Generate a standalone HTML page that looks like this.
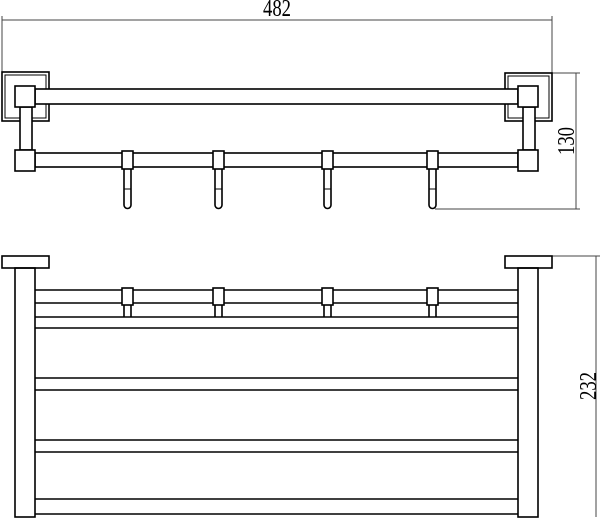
<!DOCTYPE html>
<html><head><style>html,body{margin:0;padding:0;background:#fff}svg{display:block}</style></head>
<body>
<svg width="600" height="518" viewBox="0 0 600 518" xmlns="http://www.w3.org/2000/svg" fill="none" stroke="#000" stroke-width="1.6">
<g stroke-width="1" stroke="#444">
<line x1="2" y1="20" x2="552" y2="20"/>
<line x1="2" y1="16" x2="2" y2="73"/>
<line x1="552" y1="16" x2="552" y2="73"/>
<line x1="552" y1="73" x2="580" y2="73"/>
<line x1="435" y1="209" x2="580" y2="209"/>
<line x1="576" y1="73" x2="576" y2="209"/>
<line x1="552" y1="256" x2="600" y2="256"/>
<line x1="596" y1="256" x2="596" y2="517"/>
</g>
<text font-family="Liberation Serif, serif" font-size="24" fill="#000" stroke="none" text-anchor="middle" transform="translate(277 16) scale(0.78 1)">482</text>
<text font-family="Liberation Serif, serif" font-size="24" fill="#000" stroke="none" text-anchor="middle" transform="translate(574 141) rotate(-90) scale(0.78 1)">130</text>
<text font-family="Liberation Serif, serif" font-size="24" fill="#000" stroke="none" text-anchor="middle" transform="translate(596 386) rotate(-90) scale(0.78 1)">232</text>

<rect x="2" y="72" width="47" height="49"/>
<rect x="5" y="75" width="41" height="43" stroke-width="1"/>
<rect x="505" y="73" width="47" height="48"/>
<rect x="508" y="76" width="41" height="42" stroke-width="1"/>
<rect x="35" y="89" width="483" height="15" fill="#fff"/>
<rect x="20" y="107" width="12" height="43" fill="#fff"/>
<rect x="523" y="107" width="12" height="43" fill="#fff"/>
<rect x="35" y="153" width="483" height="14" fill="#fff"/>
<rect x="15" y="86" width="20" height="21" fill="#fff"/>
<rect x="518" y="86" width="20" height="21" fill="#fff"/>
<rect x="15" y="150" width="20" height="21" fill="#fff"/>
<rect x="518" y="150" width="20" height="21" fill="#fff"/>
<g id="hk">
<rect x="122" y="151" width="11" height="18" fill="#fff"/>
<path d="M124 169 V205 A3.5 3.5 0 0 0 131 205 V169"/>
<line x1="124" y1="189" x2="131" y2="189" stroke-width="1"/>
</g>
<use href="#hk" x="91"/>
<use href="#hk" x="200"/>
<use href="#hk" x="305"/>

<rect x="2" y="256" width="47" height="12"/>
<rect x="505" y="256" width="47" height="12"/>
<rect x="15" y="268" width="20" height="249"/>
<rect x="518" y="268" width="20" height="249"/>
<g>
<line x1="35" y1="290" x2="518" y2="290"/>
<line x1="35" y1="303" x2="518" y2="303"/>
<line x1="35" y1="317" x2="518" y2="317"/>
<line x1="35" y1="328" x2="518" y2="328"/>
<line x1="35" y1="378" x2="518" y2="378"/>
<line x1="35" y1="390" x2="518" y2="390"/>
<line x1="35" y1="440" x2="518" y2="440"/>
<line x1="35" y1="452" x2="518" y2="452"/>
<line x1="35" y1="499" x2="518" y2="499"/>
<line x1="35" y1="514" x2="518" y2="514"/>
</g>
<g id="hb">
<rect x="122" y="288" width="11" height="17" fill="#fff"/>
<path d="M124 305 V317 M131 305 V317"/>
</g>
<use href="#hb" x="91"/>
<use href="#hb" x="200"/>
<use href="#hb" x="305"/>
</svg>
</body></html>
